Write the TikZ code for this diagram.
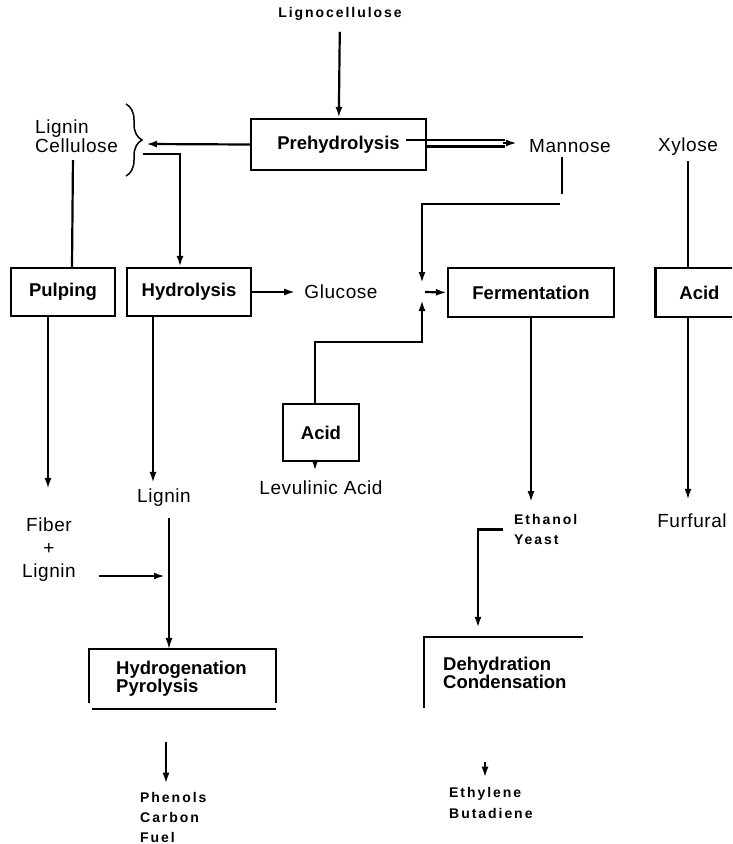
\documentclass[tikz,border=0pt]{standalone}
\usepackage{fontspec}
\setmainfont{Liberation Sans}
\newfontfamily\plainsf[LetterSpace=3]{Liberation Sans}
\newfontfamily\tagsf[LetterSpace=14]{Liberation Sans}
\usetikzlibrary{arrows.meta,decorations.pathreplacing}

\begin{document}
\begin{tikzpicture}[x=1pt,y=-1pt,line cap=butt,line join=miter,>={Latex[length=11pt,width=7pt]},
  every node/.style={inner sep=2pt},
  flow/.style={line width=2.2pt},
  thin flow/.style={line width=1.3pt},
  boxed/.style={draw,line width=2.3pt,font=\fontsize{18.5}{19}\selectfont\bfseries},
  word/.style={font=\plainsf\fontsize{19}{19}\selectfont},
  tag/.style={font=\tagsf\bfseries\fontsize{14}{20}\selectfont,align=left},
  stage/.style={font=\fontsize{18.5}{18.5}\selectfont\bfseries,align=left}]
  \clip (0,0) rectangle (732,844);
  \useasboundingbox (0,0) rectangle (732,844);

  % boxes
  \node[boxed,minimum width=175pt,minimum height=51pt] (pre) at (338.5,144.5) {Prehydrolysis};
  \node[boxed,minimum width=104pt,minimum height=48pt] (pulp) at (63,292) {Pulping};
  \node[boxed,minimum width=124pt,minimum height=48pt] (hyd) at (189,292) {Hydrolysis};
  \node[boxed,minimum width=166pt,minimum height=49pt] (ferm) at (531,292.5) {Fermentation};
  \node[boxed,minimum width=88pt,minimum height=49pt] (acidR) at (699.5,292.5) {Acid};
  \node[boxed,minimum width=76pt,minimum height=57pt] (acidM) at (321,432.5) {Acid};
  \node[minimum width=187pt,minimum height=54pt] (hgbox) at (182.5,676) {};
  \node[minimum width=159pt,minimum height=71pt] (dhbox) at (503.5,672.5) {};
  \draw[line width=2.2pt] (hgbox.south west) -- (hgbox.north west) -- (hgbox.north east) -- (hgbox.south east);
  \draw[line width=1.5pt] ([xshift=3pt,yshift=-6pt]hgbox.south west) -- ([yshift=-6pt]hgbox.south east);
  \draw[line width=2.2pt] (dhbox.south west) -- (dhbox.north west) -- (dhbox.north east);

  % texts
  \node[tag] (lcell) at (340,14) {Lignocellulose};
  \node[word,align=left,anchor=west] (lc) at (33,136.5) {Lignin\\Cellulose};
  \node[word] (manno) at (570,146) {Mannose};
  \node[word] (xyl) at (688,147) {Xylose};
  \node[word] (glu) at (341,292) {Glucose};
  \node[word] (lig2) at (164,498) {Lignin};
  \node[word,align=center,font=\plainsf\fontsize{19}{23}\selectfont] (fib) at (49,550) {Fiber\\+\\Lignin};
  \node[word] (lev) at (321,488) {Levulinic Acid};
  \node[word] (furf) at (692,521) {Furfural};
  \node[tag,anchor=west] (eth) at (512,529.5) {Ethanol\\Yeast};
  \node[tag,anchor=west,font=\tagsf\bfseries\fontsize{14}{20}\selectfont] (phen) at (138,817) {Phenols\\Carbon\\Fuel};
  \node[tag,anchor=west,font=\tagsf\bfseries\fontsize{14}{21}\selectfont] (ethy) at (447,802.5) {Ethylene\\Butadiene};
  \node[stage,anchor=west] (hgt) at (114,678.5) {Hydrogenation\\Pyrolysis};
  \node[stage,anchor=west] (dht) at (441,673) {Dehydration\\Condensation};

  \coordinate (bt) at (146,144);
  \coordinate (bb) at (143,154);
  \coordinate (jn) at (422,292);

  % brace
  \draw[line width=1.5pt,decorate,decoration={brace,amplitude=16pt}] (126,104) -- (126,176);

  % connectors
  \draw[flow,->,shorten <=9pt] (lcell) -- (pre);
  \draw[flow,->] (pre.west) -- (bt);
  \draw[thin flow] (406,140) -- (505,140);
  \draw[flow] (pre.east |- 0,146.5) -- (505,146.5);
  \draw[flow,->,shorten >=10pt] (503,143) -- (manno.west |- 0,143);
  \draw[flow,->] (bb) -| ([xshift=-9pt]hyd.north);
  \draw[flow,shorten <=5pt] (lc.south -| 73,0) -- (pulp.north -| 72,0);
  \draw[flow,->,shorten >=27pt] (pulp.south -| 48,0) -- (fib.north -| 48,0);
  \draw[flow,->,shorten >=7pt] (hyd.east) -- (glu.west);
  \draw[flow,->,shorten >=4pt] (hyd.south -| 153,0) -- (lig2.north -| 153,0);
  \draw[thin flow,->,shorten <=9pt] (lig2.south -| 169,0) -- (hgbox.north -| 169,0);
  \draw[flow,->] (fib.east |- 0,576) ++(21,0) -- (165,576);
  \draw[flow,->,shorten <=39pt,shorten >=6pt] (hgbox.south -| 166,0) -- (phen.north -| 166,0);
  \draw[flow,->,shorten >=8pt] (acidM.north -| 315,0) |- (jn |- 0,342) -- (jn);
  \draw[flow,shorten <=2pt] (manno.south -| 562,0) -- (562,194);
  \draw[flow,->,shorten >=9pt] (560,204) -| (jn);
  \draw[flow,->] ([xshift=3pt]jn) -- (ferm.west);
  \draw[flow,->,shorten >=10pt] (ferm.south) -- (ferm.south |- eth.north);
  \draw[flow,->,shorten <=9pt,shorten >=9pt] (eth.west) -| (dhbox.north -| 478,0);
  \draw[flow,->,shorten <=54pt,shorten >=7pt] (dhbox.south -| 485,0) -- (ethy.north -| 485,0);
  \draw[flow,shorten <=3pt] (xyl.south -| 688,0) -- (acidR.north -| 688,0);
  \draw[flow,->,shorten >=12pt] (acidR.south -| 688,0) -- (furf.north -| 688,0);
  \draw[flow,->,shorten >=8pt] (acidM.south -| 315,0) -- (lev.north -| 315,0);
\end{tikzpicture}
\end{document}
